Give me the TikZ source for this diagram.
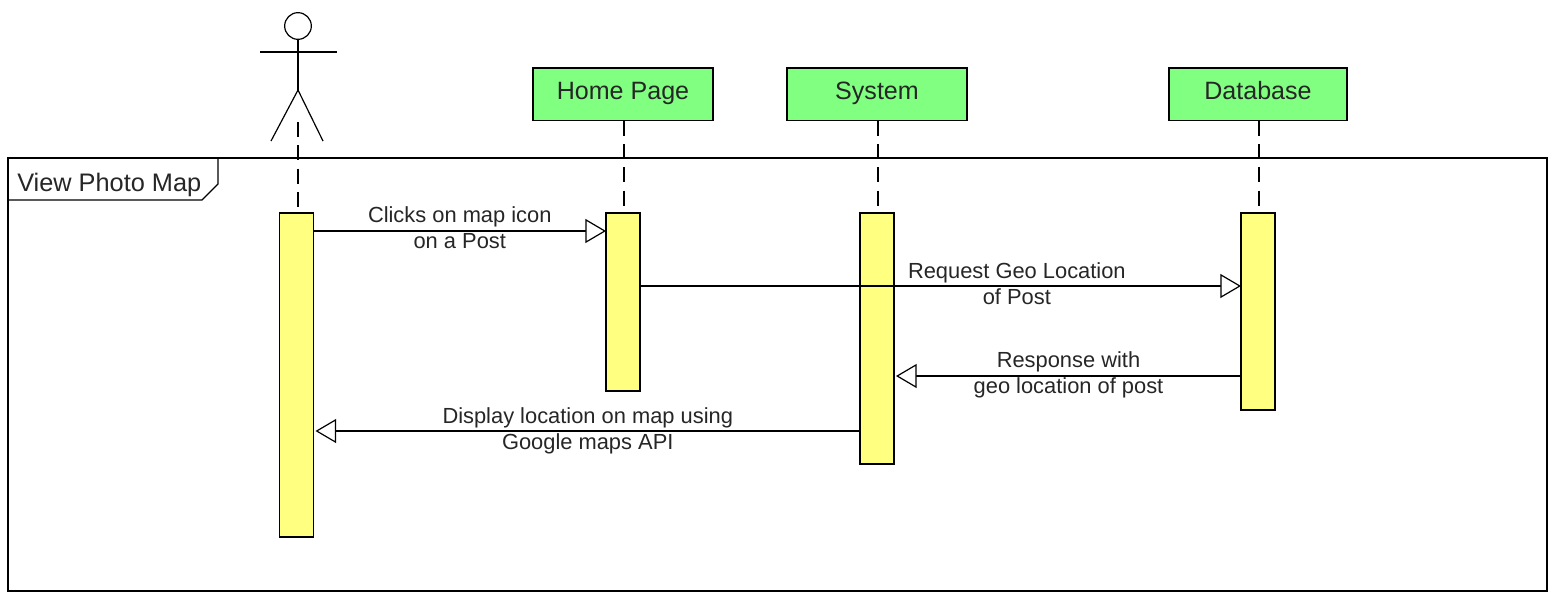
\documentclass[tikz,border=0pt]{standalone}
\usepackage{fontspec}
\setmainfont{Liberation Sans}
\usetikzlibrary{positioning,arrows.meta}
\definecolor{boxgreen}{HTML}{80FF80}
\definecolor{baryellow}{HTML}{FFFF80}

\begin{document}
\begin{tikzpicture}[
  x=0.75pt, y=-0.75pt,
  outer/.style={draw=black, line width=0.9pt},
  part/.style={outer, fill=boxgreen, minimum width=135pt, minimum height=39.5pt,
               outer sep=0pt, inner sep=0pt, text height=13.5pt, text depth=5.2pt,
               font=\fontsize{18.8}{20}\selectfont, text=black!85},
  bar/.style={outer, fill=baryellow, minimum width=25.5pt, outer sep=0pt, inner sep=0pt},
  life/.style={line width=0.9pt, dash pattern=on 11.25pt off 6.25pt, shorten >=4.5pt},
  msg/.style={-{Triangle[open, fill=white, length=15.5pt, width=18pt, line width=0.9pt]}, line width=0.9pt},
  lbl/.style={align=center, inner sep=0pt, font=\fontsize{16.4}{19.5}\selectfont, text=black!85},
  node distance=55.5pt and 55.5pt,
]
  \useasboundingbox (0,0) rectangle (1555,604);

  % Frame
  \node[outer, anchor=north west, minimum width=1154.25pt, minimum height=324.75pt,
        outer sep=0pt, inner sep=0pt] (frame) at (8,158) {};
  \coordinate (tabtop) at (218,158);
  \coordinate (tabside) at (218,184);
  \coordinate (tabcut) at (202,200);
  \coordinate (tableft) at (8,200);
  \draw[outer] (tabtop) -- (tabside) -- (tabcut) -- (tableft);
  \node[anchor=west, inner sep=0pt, font=\fontsize{19}{22}\selectfont, text=black!85] (title) at (17,184.5) {View Photo Map};

  % Actor
  \node[outer, circle, minimum size=20pt, inner sep=0pt, outer sep=0pt] (head) at (298,26) {};
  \coordinate (neck) at (298,52);
  \coordinate (armleft) at (260,52);
  \coordinate (armright) at (337,52);
  \coordinate (hip) at (298,90);
  \coordinate (legleft) at (271,141);
  \coordinate (legright) at (323,141);
  \draw[outer] (head) -- (hip);
  \draw[outer] (armleft) -- (armright);
  \draw[outer] (legleft) -- (hip) -- (legright);
  \coordinate (actortop) at (298,122);

  % Lifeline heads
  \node[part, anchor=north west] (home) at (533,68) {Home Page};
  \node[part, right=of home] (sys) {System};
  \node[part, minimum width=133.5pt, right=151.5pt of sys] (db) {Database};

  % Activation bars
  \node[bar, anchor=north, minimum height=243pt] (actbar) at (296.5,213) {};
  \node[bar, anchor=north, minimum height=133.5pt] (homebar) at (623,213) {};
  \node[bar, anchor=north, minimum height=188.25pt] (sysbar) at (877,213) {};
  \node[bar, anchor=north, minimum height=147.75pt] (dbbar) at (1258,213) {};

  \draw[life] (actortop) -- (actortop |- actbar.north);
  \draw[life] ([xshift=0.75pt]home.south) -- ([xshift=0.75pt]home.south |- homebar.north);
  \draw[life] ([xshift=0.75pt]sys.south) -- ([xshift=0.75pt]sys.south |- sysbar.north);
  \draw[life] ([xshift=0.75pt]db.south) -- ([xshift=0.75pt]db.south |- dbbar.north);

  % Messages
  \draw[msg] ([yshift=-13.5pt]actbar.north east) -- ([yshift=-13.5pt]homebar.north west)
    node[lbl, midway, yshift=2.2pt] (click) {Clicks on map icon\\on a Post};
  \draw[msg] ([yshift=-54.75pt]homebar.north east) -- ([yshift=-54.75pt]dbbar.north west)
    node[lbl, pos=0.627, yshift=1.8pt] (req) {Request Geo Location\\of Post};
  \draw[msg] ([yshift=-122.25pt]dbbar.north west) -- ([xshift=1.5pt, yshift=-122.25pt]sysbar.north east)
    node[lbl, midway, yshift=0.7pt] (resp) {Response with\\geo location of post};
  \draw[msg] ([yshift=-163.5pt]sysbar.north west) -- ([xshift=1.5pt, yshift=-163.5pt]actbar.north east)
    node[lbl, midway, yshift=0pt] (disp) {Display location on map using\\Google maps API};
\end{tikzpicture}
\end{document}
